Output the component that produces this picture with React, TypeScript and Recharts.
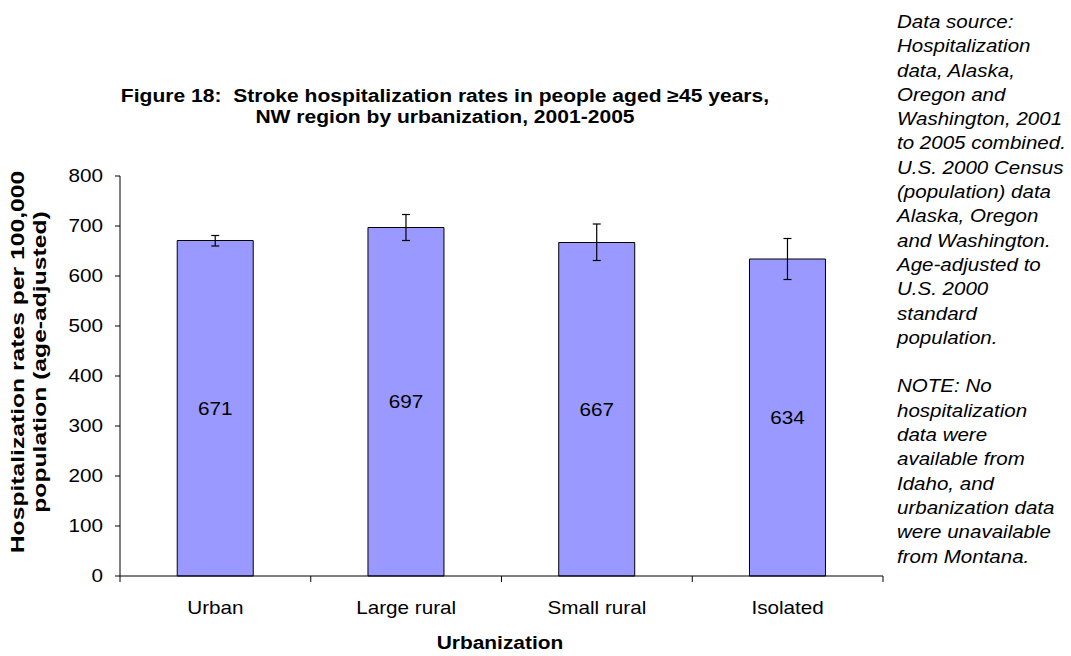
import React from 'react';
import { BarChart, Bar, XAxis, YAxis, ErrorBar, LabelList } from 'recharts';

const categories = ['Urban', 'Large rural', 'Small rural', 'Isolated'];
const rates = [671, 697, 667, 634];
const ciLow = [660, 671, 631, 593];
const ciHigh = [681, 723, 704, 675];
const yTicks = [0, 100, 200, 300, 400, 500, 600, 700, 800];

const titleLines = [
  'Figure 18:  Stroke hospitalization rates in people aged \u226545 years,',
  'NW region by urbanization, 2001-2005',
];
const yLabelLines = ['Hospitalization rates per 100,000', 'population (age-adjusted)'];
const xLabel = 'Urbanization';
const noteLines = [
  'Data source:',
  'Hospitalization',
  'data, Alaska,',
  'Oregon and',
  'Washington, 2001',
  'to 2005 combined.',
  'U.S. 2000 Census',
  '(population) data',
  'Alaska, Oregon',
  'and Washington.',
  'Age-adjusted to',
  'U.S. 2000',
  'standard',
  'population.',
  '',
  'NOTE: No',
  'hospitalization',
  'data were',
  'available from',
  'Idaho, and',
  'urbanization data',
  'were unavailable',
  'from Montana.',
];

const data = categories.map((name, i) => ({
  name,
  rate: rates[i],
  err: [rates[i] - ciLow[i], ciHigh[i] - rates[i]],
}));

const FONT = '"Liberation Sans", Arial, Helvetica, sans-serif';
const SX = 1.15;

const XTick = (props: any) => {
  const { x, y, payload, index, visibleTicksCount } = props;
  const off = payload.offset || 0;
  const isLast = index === (visibleTicksCount ?? categories.length) - 1;
  return (
    <g>
      <line x1={x - off} x2={x - off} y1={y - 25} y2={y - 19} stroke="#000" />
      {isLast && <line x1={x + off} x2={x + off} y1={y - 25} y2={y - 19} stroke="#000" />}
      <text
        transform={`translate(${x} ${y}) scale(${SX} 1)`}
        x={0}
        y={0}
        dy="0.71em"
        textAnchor="middle"
        fill="#000"
        fontSize={18}
        fontFamily={FONT}
      >
        {payload.value}
      </text>
    </g>
  );
};

const YTick = (props: any) => {
  const { x, y, payload } = props;
  return (
    <text
      transform={`translate(${x} ${y}) scale(${SX} 1)`}
      x={0}
      y={0}
      dy="0.355em"
      textAnchor="end"
      fill="#000"
      fontSize={18}
      fontFamily={FONT}
    >
      {payload.value}
    </text>
  );
};

const BarValue = (props: any) => {
  const { x, y, width, height, value } = props;
  const cx = x + width / 2;
  const cy = y + height / 2;
  return (
    <text
      transform={`translate(${cx} ${cy}) scale(${SX} 1)`}
      x={0}
      y={0}
      dy="0.355em"
      textAnchor="middle"
      fill="#000"
      fontSize={18}
      fontFamily={FONT}
    >
      {value}
    </text>
  );
};

export default function App() {
  return (
    <div style={{ position: 'absolute', left: 0, top: 0, width: 1071, height: 656, background: '#fff', fontFamily: FONT, overflow: 'hidden' }}>
      <BarChart
        width={1071}
        height={656}
        data={data}
        margin={{ top: 176, right: 188, bottom: 50, left: 60 }}
        barCategoryGap="30%"
      >
        <XAxis
          dataKey="name"
          axisLine={{ stroke: '#000' }}
          tickLine={false}
          tickSize={6}
          tickMargin={19}
          height={30}
          interval={0}
          tick={<XTick />}
        />
        <YAxis
          domain={[0, 800]}
          ticks={yTicks}
          width={60}
          tickSize={5}
          tickMargin={12}
          axisLine={{ stroke: '#000' }}
          tickLine={{ stroke: '#000' }}
          tick={<YTick />}
        />
        <Bar dataKey="rate" fill="#9999FF" stroke="#000" strokeWidth={1} isAnimationActive={false}>
          <LabelList dataKey="rate" content={<BarValue />} />
          <ErrorBar dataKey="err" width={4} stroke="#000" strokeWidth={1.2} direction="y" />
        </Bar>
      </BarChart>

      <div style={{ position: 'absolute', left: 145, width: 600, top: 86, textAlign: 'center', fontWeight: 'bold', fontSize: 18, lineHeight: '21px', whiteSpace: 'pre', transform: 'scaleX(1.17)', transformOrigin: '50% 50%' }}>
        {titleLines.map((l, i) => (
          <div key={i}>{l}</div>
        ))}
      </div>

      <div style={{ position: 'absolute', left: 29, top: 362, width: 0, height: 0 }}>
        <div style={{ position: 'absolute', left: -200, top: -22, width: 400, height: 44, textAlign: 'center', transform: 'rotate(-90deg) scaleX(1.37)', transformOrigin: '50% 50%', fontWeight: 'bold', fontSize: 18, lineHeight: '22px', whiteSpace: 'nowrap' }}>
          {yLabelLines.map((l, i) => (
            <div key={i}>{l}</div>
          ))}
        </div>
      </div>

      <div style={{ position: 'absolute', left: 400, width: 200, top: 632, textAlign: 'center', fontWeight: 'bold', fontSize: 18, lineHeight: '22px', transform: 'scaleX(1.16)', transformOrigin: '50% 50%' }}>
        {xLabel}
      </div>

      <div style={{ position: 'absolute', left: 897, top: 10, fontStyle: 'italic', fontSize: 18, lineHeight: '24.3px', whiteSpace: 'nowrap', transform: 'scaleX(1.14)', transformOrigin: '0 0' }}>
        {noteLines.map((l, i) => (
          <div key={i} style={{ height: '24.3px' }}>{l}</div>
        ))}
      </div>
    </div>
  );
}
